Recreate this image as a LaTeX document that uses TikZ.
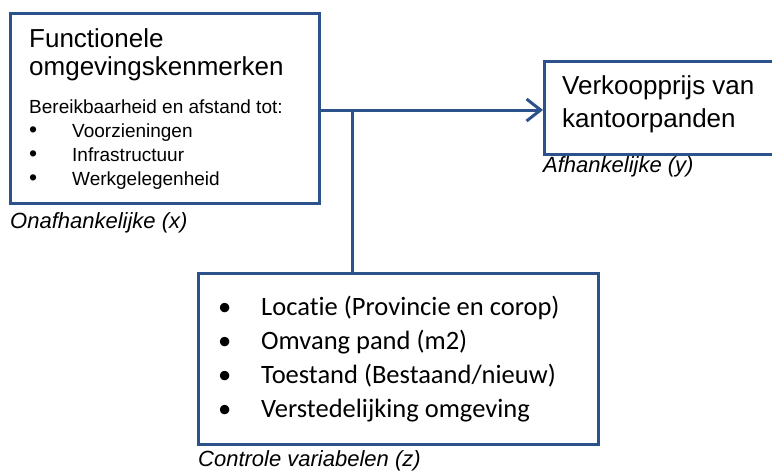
\documentclass[tikz,border=0pt]{standalone}
\usepackage{fontspec}
\setmainfont{Liberation Sans}
\newfontfamily\calibri[Ligatures=NoCommon]{Carlito}
\usetikzlibrary{arrows.meta}
\definecolor{kader}{RGB}{44,82,140}
\tikzset{
  box/.style={draw=kader, line width=3pt, anchor=north west, inner sep=0pt},
  verbinding/.style={draw=kader, line width=3pt},
  txt/.style={anchor=base west, inner sep=0pt},
  kop/.style={txt, font=\fontsize{26}{30}\selectfont},
  klein/.style={txt, font=\fontsize{19}{24}\selectfont},
  bijschrift/.style={txt, font=\fontsize{22}{25}\selectfont\itshape},
  ctrl/.style={txt, font=\calibri\fontsize{26.5}{30}\selectfont},
}
\begin{document}
\begin{tikzpicture}[x=1pt, y=-1pt]
      \clip (0,0) rectangle (772,471);
      % boxes
      \node[box, minimum width=309, minimum height=190] (x) at (9,12) {};
      \node[box, minimum width=250, minimum height=93] (y) at (543,60) {};
      \node[box, minimum width=400, minimum height=171] (z) at (197,272) {};
      % onafhankelijke
      \node[kop] (x1) at (29,47) {Functionele};
      \node[kop] (x2) at (29,75) {omgevingskenmerken};
      \node[klein] (x3) at (29,113) {Bereikbaarheid en afstand tot:};
      \node[klein] (x4) at (29,137) {\makebox[43pt][l]{\fontsize{23}{24}\selectfont\textbullet}Voorzieningen};
      \node[klein] (x5) at (29,161) {\makebox[43pt][l]{\fontsize{23}{24}\selectfont\textbullet}Infrastructuur};
      \node[klein] (x6) at (29,185) {\makebox[43pt][l]{\fontsize{23}{24}\selectfont\textbullet}Werkgelegenheid};
      \node[bijschrift] (xl) at (10,228) {Onafhankelijke (x)};
      % afhankelijke
      \node[kop] (y1) at (562,94) {Verkoopprijs van};
      \node[kop] (y2) at (562,127) {kantoorpanden};
      \node[bijschrift] (yl) at (543,172) {Afhankelijke (y)};
      % controle
      \node[ctrl] (z1) at (218,315) {\makebox[43pt][l]{\textbullet}Locatie (Provincie en corop)};
      \node[ctrl] (z2) at (218,349) {\makebox[43pt][l]{\textbullet}Omvang pand (m2)};
      \node[ctrl] (z3) at (218,383) {\makebox[43pt][l]{\textbullet}Toestand (Bestaand/nieuw)};
      \node[ctrl] (z4) at (218,417) {\makebox[43pt][l]{\textbullet}Verstedelijking omgeving};
      \node[bijschrift] (zl) at (198,466) {Controle variabelen (z)};
      % verbindingen
      \coordinate (j) at (352,110);
      \draw[verbinding, -{Straight Barb[length=14pt, width=22pt]}] (x.east |- j) -- (y.west |- j);
      \draw[verbinding] (j) -- (z.north -| j);
    \end{tikzpicture}
\end{document}
